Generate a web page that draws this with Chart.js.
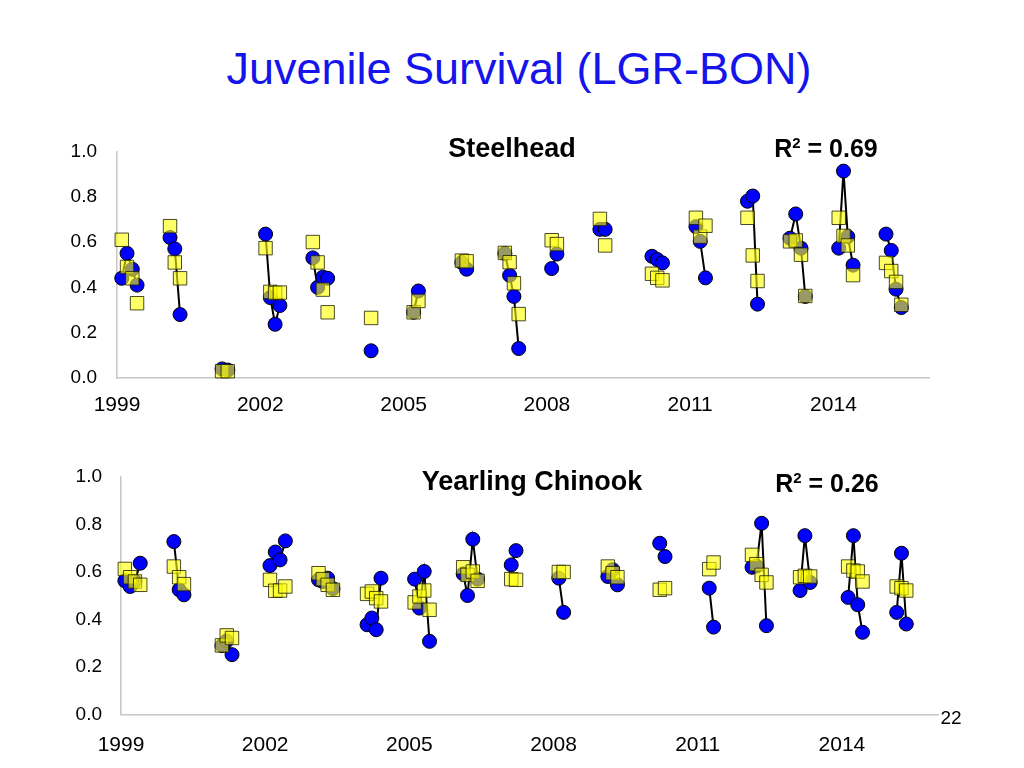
<!DOCTYPE html>
<html>
<head>
<meta charset="utf-8">
<script src="https://cdn.jsdelivr.net/npm/chart.js"></script>
<style>
  body { margin: 0; background: #fff; font-family: "Liberation Sans", Arial, sans-serif; }
  #page { position: relative; width: 1024px; height: 768px; overflow: hidden; }
  canvas { position: absolute; left: 0; }
  .lbl { position: absolute; transform: translate(-50%, -50%); line-height: 1; white-space: nowrap; color: #000; }
  .lbl sup { font-size: 0.6em; vertical-align: 0.65em; }
</style>
</head>
<body>
<div id="page">
  <div class="lbl" style="left:519px; top:68px; font-size:45px; color:#1414eb;">Juvenile Survival (LGR-BON)</div>
  <canvas id="steel" width="1024" height="310" style="top:120px"></canvas>
  <canvas id="chin" width="1024" height="328" style="top:440px"></canvas>
  <div class="lbl" style="left:512px; top:148px; font-size:27px; font-weight:bold;">Steelhead</div>
  <div class="lbl" style="left:826px; top:148px; font-size:25px; font-weight:bold;">R<sup>2</sup> = 0.69</div>
  <div class="lbl" style="left:532px; top:481px; font-size:27px; font-weight:bold;">Yearling Chinook</div>
  <div class="lbl" style="left:827px; top:483px; font-size:25px; font-weight:bold;">R<sup>2</sup> = 0.26</div>
  <div class="lbl" style="left:951px; top:717px; font-size:19px;">22</div>
</div>
<script>
// axis ticks
const xTicks = [1999, 2002, 2005, 2008, 2011, 2014];
const yTicks = [0, 0.2, 0.4, 0.6, 0.8, 1.0];

// Steelhead: release timing (decimal year), observed (circles), predicted (squares)
const steelX = [1999.10, 1999.21, 1999.32, 1999.42, 2000.11, 2000.21, 2000.32, 2001.20, 2001.32,
  2002.11, 2002.21, 2002.31, 2002.41, 2003.10, 2003.20, 2003.31, 2003.41, 2004.32, 2005.21, 2005.31,
  2006.22, 2006.32, 2007.12, 2007.22, 2007.31, 2007.41, 2008.10, 2008.21, 2009.11, 2009.22,
  2010.20, 2010.31, 2010.42, 2011.12, 2011.21, 2011.32, 2012.20, 2012.31, 2012.41,
  2013.09, 2013.21, 2013.32, 2013.41, 2014.11, 2014.21, 2014.30, 2014.41, 2015.10, 2015.21, 2015.31, 2015.42];
const steelObs = [0.44, 0.55, 0.48, 0.41, 0.62, 0.57, 0.28, 0.04, 0.035,
  0.635, 0.355, 0.237, 0.32, 0.53, 0.40, 0.445, 0.44, 0.12, 0.29, 0.384,
  0.51, 0.48, 0.55, 0.453, 0.36, 0.13, 0.483, 0.547, 0.656, 0.656,
  0.537, 0.523, 0.508, 0.668, 0.603, 0.442, 0.78, 0.803, 0.326,
  0.617, 0.724, 0.573, 0.36, 0.573, 0.913, 0.624, 0.498, 0.635, 0.563, 0.392, 0.311];
const steelPred = [0.61, 0.49, 0.44, 0.33, 0.67, 0.51, 0.44, 0.03, 0.03,
  0.573, 0.38, 0.375, 0.377, 0.60, 0.51, 0.39, 0.29, 0.265, 0.29, 0.34,
  0.518, 0.515, 0.552, 0.511, 0.418, 0.282, 0.608, 0.591, 0.702, 0.585,
  0.46, 0.442, 0.431, 0.707, 0.624, 0.672, 0.707, 0.541, 0.428,
  0.603, 0.607, 0.544, 0.362, 0.707, 0.627, 0.585, 0.454, 0.508, 0.472, 0.424, 0.323];

// Yearling Chinook
const chinX = [1999.08, 1999.19, 1999.29, 1999.40, 2000.10, 2000.21, 2000.31, 2001.10, 2001.20, 2001.31,
  2002.10, 2002.21, 2002.31, 2002.42, 2003.11, 2003.20, 2003.30, 2003.41, 2004.12, 2004.22, 2004.31, 2004.41,
  2005.11, 2005.21, 2005.31, 2005.42, 2006.12, 2006.21, 2006.32, 2006.42, 2007.12, 2007.22, 2008.11, 2008.21,
  2009.13, 2009.23, 2009.33, 2010.21, 2010.32, 2011.24, 2011.33, 2012.13, 2012.22, 2012.33, 2012.43,
  2013.13, 2013.23, 2013.34, 2014.13, 2014.24, 2014.33, 2014.43, 2015.14, 2015.24, 2015.34];
const chinObs = [0.563, 0.539, 0.56, 0.637, 0.728, 0.525, 0.504, 0.29, 0.31, 0.252,
  0.627, 0.684, 0.651, 0.731, 0.567, 0.56, 0.574, 0.53, 0.378, 0.406, 0.357, 0.574,
  0.57, 0.448, 0.602, 0.308, 0.592, 0.501, 0.738, 0.57, 0.63, 0.69, 0.574, 0.43,
  0.581, 0.61, 0.546, 0.721, 0.665, 0.532, 0.368, 0.62, 0.625, 0.805, 0.374,
  0.522, 0.753, 0.556, 0.493, 0.753, 0.462, 0.346, 0.43, 0.679, 0.381];
const chinPred = [0.613, 0.578, 0.56, 0.546, 0.623, 0.578, 0.549, 0.291, 0.333, 0.322,
  0.567, 0.521, 0.522, 0.539, 0.595, 0.57, 0.546, 0.525, 0.508, 0.518, 0.49, 0.476,
  0.472, 0.497, 0.522, 0.441, 0.62, 0.588, 0.602, 0.563, 0.57, 0.567, 0.60, 0.60,
  0.623, 0.595, 0.578, 0.525, 0.532, 0.612, 0.64, 0.672, 0.633, 0.588, 0.556,
  0.578, 0.584, 0.581, 0.623, 0.606, 0.602, 0.56, 0.539, 0.532, 0.522];

Chart.defaults.font.family = '"Liberation Sans", Arial, sans-serif';
Chart.defaults.color = '#000';

function buildChart(id, xs, obs, pred, geo) {
  const predPts = xs.map((x, i) => ({ x: x, y: pred[i] }));
  // observed points joined within a year, broken between years
  const obsPts = [];
  xs.forEach((x, i) => {
    if (i > 0 && Math.floor(x) !== Math.floor(xs[i - 1])) obsPts.push({ x: x - 0.5, y: null });
    obsPts.push({ x: x, y: obs[i] });
  });

  return new Chart(document.getElementById(id), {
    type: 'scatter',
    data: {
      datasets: [{
        label: 'Predicted', data: predPts, order: 1,
        pointStyle: 'rect', pointRadius: 9.5, pointHoverRadius: 9.5,
        backgroundColor: 'rgba(255,255,0,0.6)', borderColor: 'rgba(30,30,0,0.8)', borderWidth: 1
      }, {
        label: 'Observed', data: obsPts, order: 2,
        showLine: true, spanGaps: false, borderColor: '#000', borderWidth: 2,
        pointRadius: 7, pointHoverRadius: 7,
        pointBackgroundColor: '#0000ff', pointBorderColor: '#000', pointBorderWidth: 1
      }]
    },
    options: {
      responsive: false, animation: false, devicePixelRatio: 1,
      clip: false,
      layout: { padding: { top: geo.top, right: geo.right, left: 0, bottom: 0 } },
      plugins: { legend: { display: false }, tooltip: { enabled: false } },
      scales: {
        x: {
          type: 'linear', min: 1999, max: 2016,
          afterBuildTicks: s => { s.ticks = xTicks.map(v => ({ value: v })); },
          afterFit: s => { s.height = geo.xH; },
          grid: { display: false, drawTicks: false },
          border: { display: true, color: '#c6c6c6', width: 1.5 },
          ticks: { padding: geo.xPad, font: { size: 21 }, maxRotation: 0, autoSkip: false, callback: v => String(v) }
        },
        y: {
          min: 0, max: 1,
          afterBuildTicks: s => { s.ticks = yTicks.map(v => ({ value: v })); },
          afterFit: s => { s.width = geo.yW; },
          grid: { display: false, drawTicks: false },
          border: { display: true, color: '#c6c6c6', width: 1.5 },
          ticks: { padding: geo.yPad, font: { size: 19 }, callback: v => v.toFixed(1) }
        }
      }
    }
  });
}

buildChart('steel', steelX, steelObs, steelPred, { top: 29, right: 95, yW: 117, xH: 52, xPad: 15, yPad: 20 });
buildChart('chin', chinX, chinObs, chinPred, { top: 37, right: 86, yW: 121, xH: 53.5, xPad: 18, yPad: 19 });
</script>
</body>
</html>
